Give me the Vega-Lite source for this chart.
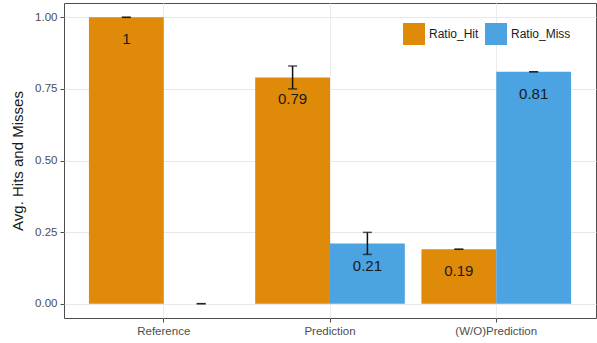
{
  "$schema": "https://vega.github.io/schema/vega-lite/v6.json",
  "width": 532,
  "height": 315,
  "autosize": "none",
  "padding": {"left": 64, "top": 3, "right": 1, "bottom": 25},
  "background": "white",
  "config": {
    "font": "Liberation Sans",
    "view": {"stroke": "#4d4d4d", "strokeWidth": 1}
  },
  "data": {
    "values": [
      {"group": "Reference", "type": "Ratio_Hit", "value": 1.0, "lo": 1.0, "hi": 1.0},
      {"group": "Reference", "type": "Ratio_Miss", "value": 0.0, "lo": 0.0, "hi": 0.0},
      {"group": "Prediction", "type": "Ratio_Hit", "value": 0.79, "lo": 0.75, "hi": 0.83},
      {"group": "Prediction", "type": "Ratio_Miss", "value": 0.21, "lo": 0.172, "hi": 0.249},
      {"group": "(W/O)Prediction", "type": "Ratio_Hit", "value": 0.19, "lo": 0.19, "hi": 0.19},
      {"group": "(W/O)Prediction", "type": "Ratio_Miss", "value": 0.81, "lo": 0.81, "hi": 0.81}
    ]
  },
  "encoding": {
    "x": {
      "field": "group",
      "type": "nominal",
      "sort": ["Reference", "Prediction", "(W/O)Prediction"],
      "scale": {"paddingInner": 0.1, "paddingOuter": 0.15},
      "axis": {
        "title": null,
        "labelAngle": 0,
        "labelFontSize": 11.5,
        "labelColor": "#4d4d4d",
        "labelPadding": 3,
        "tickColor": "#4d4d4d",
        "tickSize": 4,
        "domain": false,
        "grid": true,
        "gridColor": "#ebebeb",
        "bandPosition": 0.5
      }
    },
    "xOffset": {
      "field": "type",
      "type": "nominal",
      "scale": {"paddingInner": 0, "paddingOuter": 0}
    }
  },
  "layer": [
    {
      "mark": {"type": "bar"},
      "encoding": {
        "y": {
          "field": "value",
          "type": "quantitative",
          "scale": {"domain": [-0.05, 1.05], "nice": false, "zero": false},
          "axis": {
            "title": "Avg. Hits and Misses",
            "titleFontSize": 15,
            "titleFontWeight": "normal",
            "titleColor": "#1a1a1a",
            "titlePadding": 9,
            "values": [0, 0.125, 0.25, 0.375, 0.5, 0.625, 0.75, 0.875, 1.0],
            "format": ".2f",
            "labelExpr": "abs(datum.value * 4 - round(datum.value * 4)) < 0.001 ? datum.label : ''",
            "labelFontSize": 11.5,
            "labelColor": "#4d4d4d",
            "labelPadding": 3,
            "domain": false,
            "tickSize": 4,
            "tickColor": "#4d4d4d",
            "tickOpacity": {"condition": {"test": "abs(datum.value * 4 - round(datum.value * 4)) < 0.001", "value": 1}, "value": 0},
            "grid": true,
            "gridColor": {"condition": {"test": "abs(datum.value * 4 - round(datum.value * 4)) < 0.001", "value": "#e8e8e8"}, "value": "#f1f1f1"},
            "gridWidth": 1
          }
        },
        "y2": {"datum": 0},
        "color": {
          "field": "type",
          "type": "nominal",
          "scale": {"domain": ["Ratio_Hit", "Ratio_Miss"], "range": ["#DF8A08", "#4BA3E1"]},
          "legend": {
            "title": null,
            "orient": "none",
            "direction": "horizontal",
            "legendX": 339,
            "legendY": 20,
            "padding": 0,
            "symbolType": "square",
            "symbolSize": 484,
            "symbolStrokeWidth": 0,
            "labelFontSize": 12,
            "labelColor": "#1a1a1a",
            "labelOffset": 4,
            "columnPadding": 6
          }
        }
      }
    },
    {
      "mark": {"type": "rule", "color": "#111111", "strokeWidth": 1.5},
      "encoding": {
        "y": {"field": "lo", "type": "quantitative"},
        "y2": {"field": "hi"}
      }
    },
    {
      "mark": {"type": "tick", "color": "#111111", "thickness": 1.5, "size": 9},
      "encoding": {
        "y": {"field": "lo", "type": "quantitative"}
      }
    },
    {
      "mark": {"type": "tick", "color": "#111111", "thickness": 1.5, "size": 9},
      "encoding": {
        "y": {"field": "hi", "type": "quantitative"}
      }
    },
    {
      "transform": [{"filter": "datum.value > 0"}],
      "mark": {"type": "text", "fontSize": 15, "color": "#1a1a1a", "baseline": "middle", "dy": 22},
      "encoding": {
        "y": {"field": "value", "type": "quantitative"},
        "text": {"field": "value", "type": "quantitative", "format": "~g"}
      }
    }
  ]
}
